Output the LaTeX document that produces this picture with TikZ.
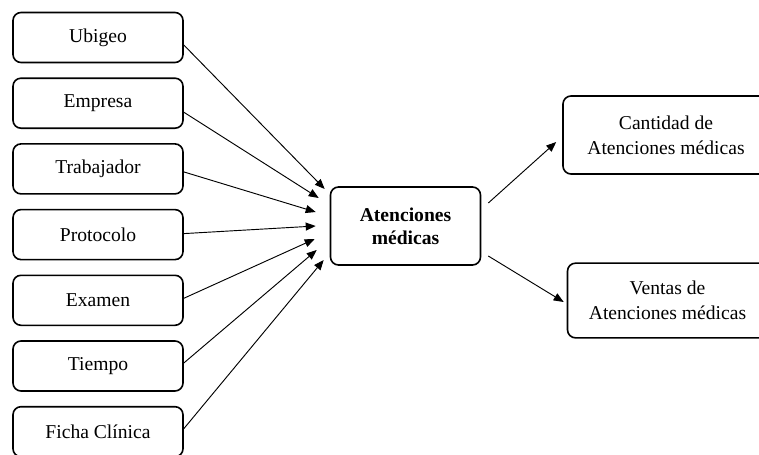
\documentclass[tikz,border=0pt]{standalone}
\usepackage{fontspec}
\setmainfont{Liberation Serif}
\usetikzlibrary{arrows.meta,calc}
\begin{document}
\begin{tikzpicture}[x=0.75pt,y=-0.75pt,
  box/.style={draw,line width=1.2pt,rounded corners=6pt,inner sep=0pt,align=center,
    font=\fontsize{14.7pt}{18.5pt}\selectfont},
  leftbox/.style={box,minimum width=127.5pt,minimum height=37.5pt},
  link/.style={line width=0.7pt,-{Triangle[length=7.5pt,width=6pt]}}]
\useasboundingbox (0,0) rectangle (759,454);
\begin{scope}
\clip (0,0) rectangle (759,454);
% input boxes
\node[leftbox] (ubi) at (98,37.5) {Ubigeo};
\node[leftbox] (emp) at (98,103.2) {Empresa};
\node[leftbox] (tra) at (98,168.9) {Trabajador};
\node[leftbox] (pro) at (98,234.6) {Protocolo};
\node[leftbox] (exa) at (98,300.3) {Examen};
\node[leftbox] (tie) at (98,366) {Tiempo};
\node[leftbox] (fic) at (98,431.7) {Ficha Clínica};
% central box
\node[box,minimum width=112.5pt,minimum height=58.5pt,font=\bfseries\fontsize{14.7pt}{17.5pt}\selectfont] (c) at (405.5,226) {Atenciones\\médicas};
% output boxes
\node[box,minimum width=154.5pt,minimum height=58.5pt] (can) at (666,135) {Cantidad de\\Atenciones médicas};
\node[box,minimum width=150pt,minimum height=56pt] (ven) at (667.5,300.5) {Ventas de\\Atenciones médicas};
% connectors
\draw[link] ($(ubi.east)+(0,7.5)$) -- ($(c.west)+(-5,-37)$);
\draw[link] ($(emp.east)+(0,9)$) -- ($(c.west)+(-11,-28)$);
\draw[link] ($(tra.east)+(0,3)$) -- ($(c.west)+(-14,-14)$);
\draw[link] ($(pro.east)+(0,-1)$) -- ($(c.west)+(-14,0)$);
\draw[link] ($(exa.east)+(0,-2)$) -- ($(c.west)+(-15,13)$);
\draw[link] ($(tie.east)+(0,-3)$) -- ($(c.west)+(-13,24)$);
\draw[link] ($(fic.east)+(0,-3)$) -- ($(c.west)+(-6,34)$);
\draw[link] ($(c.east)+(7,-23)$) -- ($(can.west)+(-6,7)$);
\draw[link] ($(c.east)+(7,30)$) -- ($(ven.west)+(-3,1.5)$);
\end{scope}
\end{tikzpicture}
\end{document}
